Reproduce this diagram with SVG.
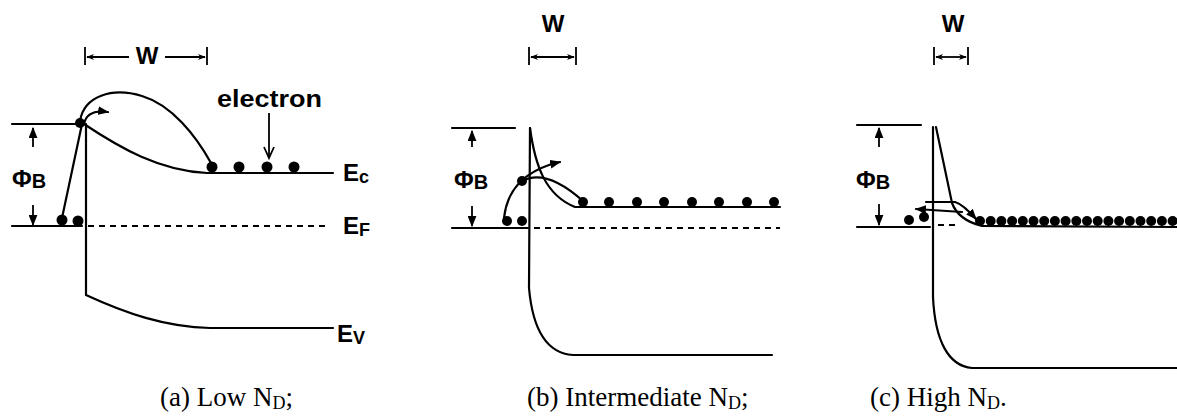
<svg xmlns="http://www.w3.org/2000/svg" width="1177" height="419" viewBox="0 0 1177 419">
<style>
.ln{stroke:#000;stroke-width:2.2;fill:none;stroke-linecap:round}
.thin{stroke:#000;stroke-width:1.8;fill:none}
.dash{stroke:#000;stroke-width:2;fill:none;stroke-dasharray:6 5}
.dot{fill:#000}
.lbl{font-family:"Liberation Sans",Arial,sans-serif;font-weight:bold;font-size:24px;fill:#000}
.cap{font-family:"Liberation Serif","Times New Roman",serif;font-size:27px;fill:#000}
</style>
<defs>
<marker id="ah" viewBox="0 0 10 8" refX="9" refY="4" markerWidth="11" markerHeight="9" markerUnits="userSpaceOnUse" orient="auto">
<path d="M0,0 L10,4 L0,8 Z" fill="#000"/>
</marker>
<marker id="as" viewBox="0 0 10 8" refX="9" refY="4" markerWidth="8" markerHeight="8" markerUnits="userSpaceOnUse" orient="auto-start-reverse">
<path d="M0,0 L10,4 L0,8 L3,4 Z" fill="#000"/>
</marker>
</defs>

<!-- Panel (a) -->
<g id="panel-a">
<g id="a-W">
<line class="thin" x1="85" y1="47" x2="85" y2="65"/>
<line class="thin" x1="207" y1="47" x2="207" y2="65"/>
<line class="thin" x1="87" y1="57" x2="129" y2="57" marker-start="url(#as)"/>
<line class="thin" x1="165" y1="57" x2="205" y2="57" marker-end="url(#as)"/>
<text class="lbl" x="147" y="64" font-size="26" text-anchor="middle">W</text>
</g>
<g id="a-phiB">
<line class="ln" x1="12" y1="124" x2="80" y2="124"/>
<line class="thin" x1="33" y1="147" x2="33" y2="128" marker-end="url(#ah)"/>
<line class="thin" x1="33" y1="205" x2="33" y2="225" marker-end="url(#ah)"/>
<text class="lbl" x="12" y="187" font-size="27">Φ<tspan font-size="20" dy="1">B</tspan></text>
</g>
<g id="a-bands">
<line class="ln" x1="12" y1="226" x2="82" y2="226"/>
<line class="dash" x1="88" y1="226" x2="330" y2="226"/>
<line class="ln" x1="86" y1="124" x2="86" y2="295"/>
<path class="ln" d="M84,124 C120,148 160,171 207,173 L333,173"/>
<path class="ln" d="M86,295 C125,313 165,327 210,328 L333,328"/>
<text class="lbl" x="343" y="181">E<tspan font-size="18" dy="2">c</tspan></text>
<text class="lbl" x="343" y="234">E<tspan font-size="18" dy="2">F</tspan></text>
<text class="lbl" x="337" y="342">E<tspan font-size="18" dy="2">V</tspan></text>
</g>
<g id="a-electrons">
<circle class="dot" cx="80" cy="123" r="5"/>
<circle class="dot" cx="62" cy="220" r="5.5"/>
<circle class="dot" cx="78" cy="221" r="5.5"/>
<circle class="dot" cx="212" cy="167" r="5.5"/>
<circle class="dot" cx="239" cy="167" r="5.5"/>
<circle class="dot" cx="267" cy="167" r="5.5"/>
<circle class="dot" cx="294" cy="167" r="5.5"/>
<text class="lbl" x="217" y="107" font-size="25" textLength="105" lengthAdjust="spacingAndGlyphs">electron</text>
<line class="thin" x1="269" y1="113" x2="269" y2="157"/>
<polyline class="thin" points="264,147 269,158 274,147"/>
</g>
<g id="a-paths">
<line class="ln" x1="82" y1="124" x2="62" y2="218"/>
<path class="ln" d="M80,121 C84,96 112,87 142,96 C172,105 196,136 211,163"/>
<path class="ln" d="M84,124 C86,114 94,110 108,112" marker-end="url(#ah)"/>
</g>
<text class="cap" x="160" y="406">(a) Low N<tspan font-size="18" dy="3">D</tspan><tspan dy="-3">;</tspan></text>
</g>

<!-- Panel (b) -->
<g id="panel-b">
<g id="b-W">
<text class="lbl" x="553" y="32" font-size="26" text-anchor="middle">W</text>
<line class="thin" x1="529" y1="47" x2="529" y2="65"/>
<line class="thin" x1="576" y1="47" x2="576" y2="65"/>
<line class="thin" x1="531" y1="57" x2="574" y2="57" marker-start="url(#as)" marker-end="url(#as)"/>
</g>
<g id="b-phiB">
<line class="ln" x1="452" y1="128" x2="515" y2="128"/>
<line class="thin" x1="472" y1="147" x2="472" y2="131" marker-end="url(#ah)"/>
<line class="thin" x1="472" y1="206" x2="472" y2="226" marker-end="url(#ah)"/>
<text class="lbl" x="454" y="188" font-size="27">Φ<tspan font-size="20" dy="1">B</tspan></text>
</g>
<g id="b-bands">
<line class="ln" x1="452" y1="228" x2="528" y2="228"/>
<line class="dash" x1="534" y1="228" x2="780" y2="228"/>
<line class="ln" x1="530" y1="128" x2="529" y2="288"/>
<path class="ln" d="M530,128 C535,165 545,195 575,207 L780,207"/>
<path class="ln" d="M529,288 C532,322 542,353 573,355 L772,355"/>
</g>
<g id="b-electrons">
<circle class="dot" cx="507" cy="221" r="5"/>
<circle class="dot" cx="522" cy="221" r="5"/>
<circle class="dot" cx="522" cy="181" r="5"/>
<circle class="dot" cx="583" cy="202" r="5"/>
<circle class="dot" cx="609" cy="202" r="5"/>
<circle class="dot" cx="637" cy="202" r="5"/>
<circle class="dot" cx="664" cy="202" r="5"/>
<circle class="dot" cx="692" cy="202" r="5"/>
<circle class="dot" cx="719" cy="202" r="5"/>
<circle class="dot" cx="747" cy="202" r="5"/>
<circle class="dot" cx="774" cy="202" r="5"/>
</g>
<g id="b-paths">
<path class="ln" d="M504,218 C507,190 525,170 560,162" marker-end="url(#ah)"/>
<path class="ln" d="M522,181 C535,174 555,176 583,201"/>
</g>
<text class="cap" x="527" y="406">(b) Intermediate N<tspan font-size="18" dy="3">D</tspan><tspan dy="-3">;</tspan></text>
</g>

<!-- Panel (c) -->
<g id="panel-c">
<g id="c-W">
<text class="lbl" x="953" y="32" font-size="26" text-anchor="middle">W</text>
<line class="thin" x1="934" y1="47" x2="934" y2="65"/>
<line class="thin" x1="968" y1="47" x2="968" y2="65"/>
<line class="thin" x1="936" y1="57" x2="966" y2="57" marker-start="url(#as)" marker-end="url(#as)"/>
</g>
<g id="c-phiB">
<line class="ln" x1="857" y1="125" x2="921" y2="125"/>
<line class="thin" x1="879" y1="147" x2="879" y2="128" marker-end="url(#ah)"/>
<line class="thin" x1="879" y1="204" x2="879" y2="225" marker-end="url(#ah)"/>
<text class="lbl" x="856" y="188" font-size="27">Φ<tspan font-size="20" dy="1">B</tspan></text>
</g>
<g id="c-bands">
<line class="ln" x1="857" y1="227" x2="930" y2="227"/>
<line class="dash" x1="938" y1="225" x2="960" y2="225"/>
<line class="ln" x1="933" y1="127" x2="933" y2="297"/>
<path class="ln" d="M936,127 L952,203 C956,214 966,222 982,226 L1177,227"/>
<path class="ln" d="M933,297 C935,340 948,366 972,368 L1177,368"/>
</g>
<g id="c-electrons">
<circle class="dot" cx="909" cy="220" r="5"/>
<circle class="dot" cx="924" cy="217" r="5"/>
<circle class="dot" cx="980" cy="221" r="5"/>
<circle class="dot" cx="990.7" cy="221" r="5"/>
<circle class="dot" cx="1001.4" cy="221" r="5"/>
<circle class="dot" cx="1012.1" cy="221" r="5"/>
<circle class="dot" cx="1022.8" cy="221" r="5"/>
<circle class="dot" cx="1033.5" cy="221" r="5"/>
<circle class="dot" cx="1044.2" cy="221" r="5"/>
<circle class="dot" cx="1054.9" cy="221" r="5"/>
<circle class="dot" cx="1065.6" cy="221" r="5"/>
<circle class="dot" cx="1076.3" cy="221" r="5"/>
<circle class="dot" cx="1087" cy="221" r="5"/>
<circle class="dot" cx="1097.7" cy="221" r="5"/>
<circle class="dot" cx="1108.4" cy="221" r="5"/>
<circle class="dot" cx="1119.1" cy="221" r="5"/>
<circle class="dot" cx="1129.8" cy="221" r="5"/>
<circle class="dot" cx="1140.5" cy="221" r="5"/>
<circle class="dot" cx="1151.2" cy="221" r="5"/>
<circle class="dot" cx="1161.9" cy="221" r="5"/>
<circle class="dot" cx="1172.6" cy="221" r="5"/>
</g>
<g id="c-paths">
<path class="ln" d="M962,212 L916,209" marker-end="url(#ah)"/>
<path class="ln" d="M926,202 L955,202 C962,204 968,210 976,219" marker-end="url(#ah)"/>
</g>
<text class="cap" x="870" y="406">(c) High N<tspan font-size="18" dy="3">D</tspan><tspan dy="-3">.</tspan></text>
</g>
</svg>
